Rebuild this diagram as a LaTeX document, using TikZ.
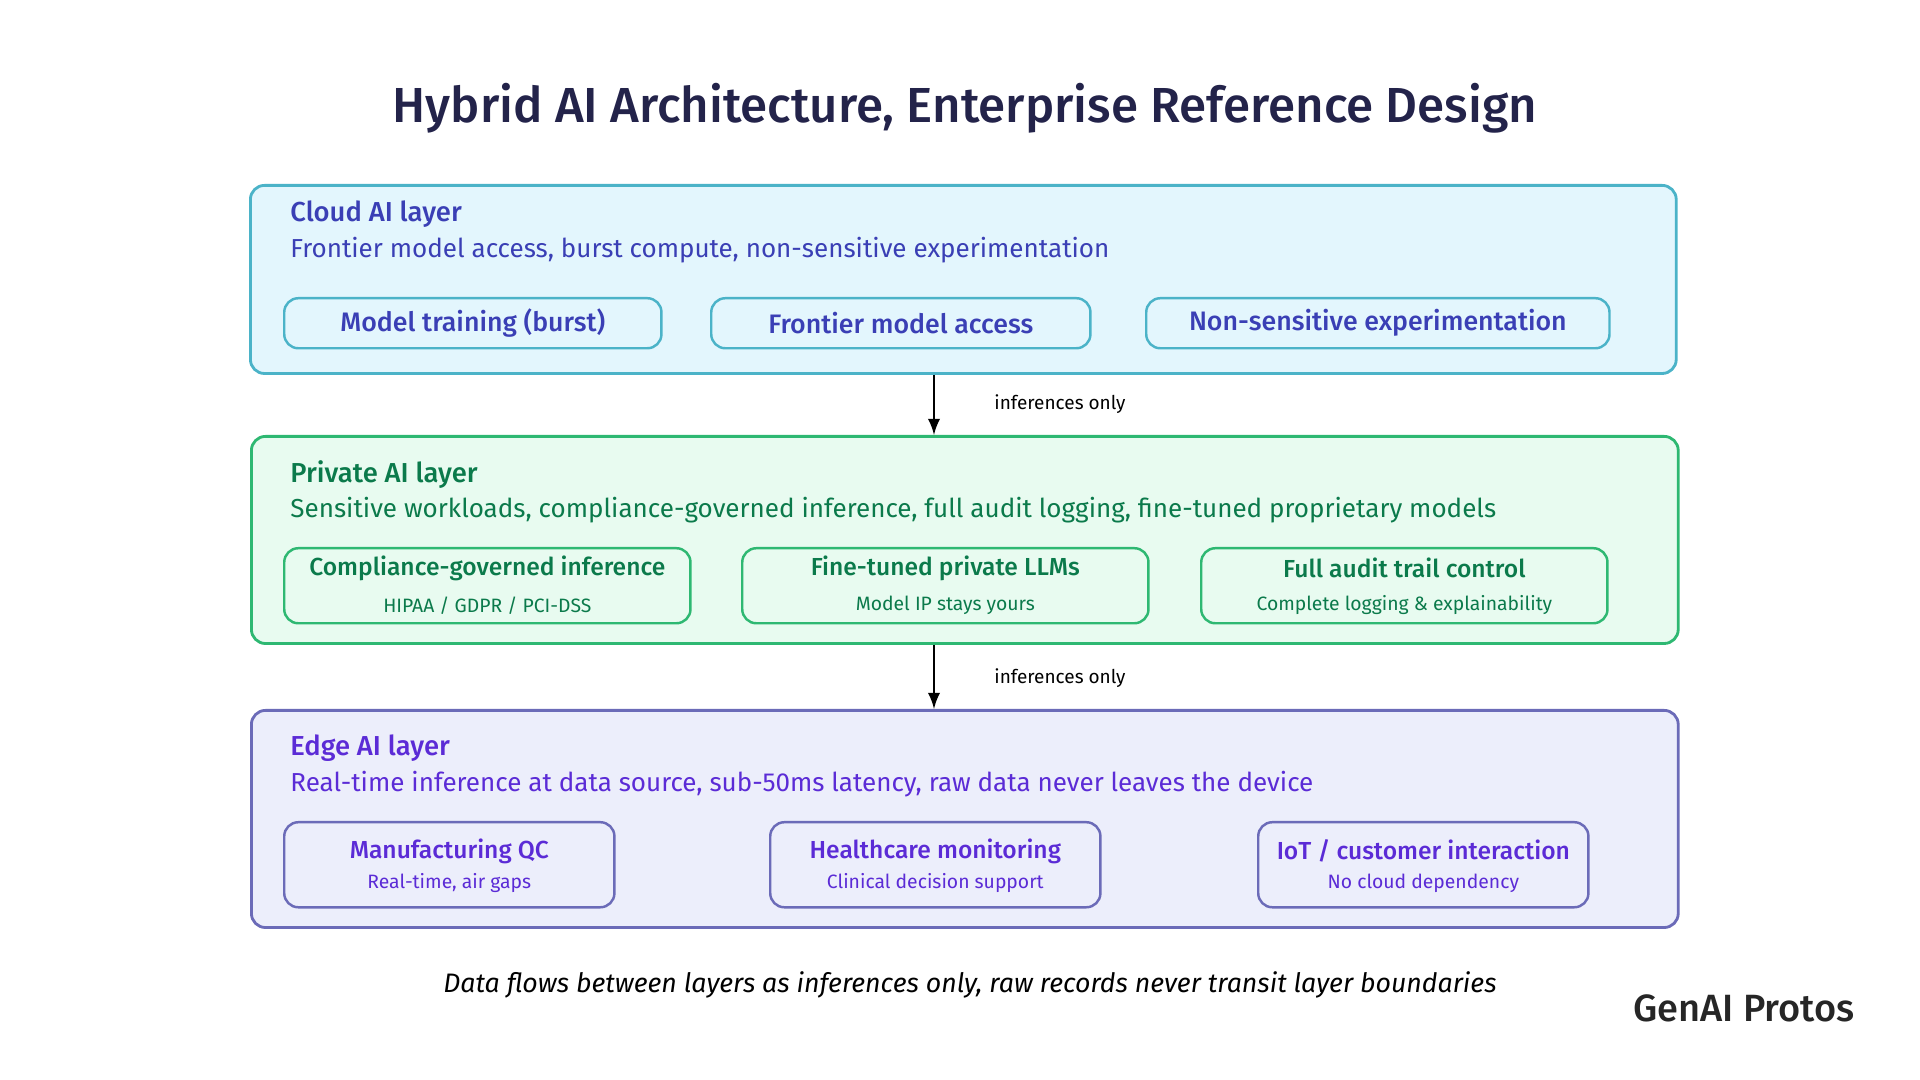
\documentclass[tikz,border=0pt]{standalone}
\usepackage{fontspec}
\setmainfont{Fira Sans}[BoldFont={Fira Sans Medium}, BoldItalicFont={Fira Sans Medium Italic}]
\usetikzlibrary{positioning}
\definecolor{cloudfill}{HTML}{E3F6FD}
\definecolor{cloudline}{HTML}{4BB3C8}
\definecolor{cloudtext}{HTML}{3A3FB5}
\definecolor{privfill}{HTML}{E8FBF0}
\definecolor{privline}{HTML}{2EB872}
\definecolor{privtext}{HTML}{0B7A4B}
\definecolor{edgefill}{HTML}{ECEEFB}
\definecolor{edgeline}{HTML}{6B6BB8}
\definecolor{edgetext}{HTML}{5B2BD6}
\definecolor{titletext}{HTML}{23234A}
\tikzset{
    layer/.style={draw=#1line, fill=#1fill, rounded corners=4pt, line width=0.8pt, anchor=north west, inner sep=0pt},
    item/.style={draw=#1line, fill=#1fill, rounded corners=4pt, line width=0.7pt, anchor=north west, inner sep=0pt},
    ltitle/.style={anchor=west, font=\fontsize{7.8}{9}\selectfont\bfseries, text=#1text},
    lsub/.style={anchor=west, font=\fontsize{7.4}{9}\selectfont, text=#1text},
    ihead/.style={font=\fontsize{7}{8}\selectfont\bfseries, text=#1text},
    isub/.style={font=\fontsize{5.5}{6}\selectfont, text=#1text},
    flow/.style={-latex, line width=0.6pt},
    flowlabel/.style={font=\fontsize{5.4}{6}\selectfont},
}
\begin{document}
\begin{tikzpicture}[x=0.01cm, y=-0.01cm]
    \useasboundingbox (0,0) rectangle (1920,1080);
    \node[font=\fontsize{14}{16}\selectfont\bfseries, text=titletext] (title) at (965,108) {Hybrid AI Architecture, Enterprise Reference Design};

    % cloud layer
    \node[layer=cloud, minimum width=14.25cm, minimum height=1.88cm] (cloud) at (249,184) {};
    \node[ltitle=cloud] (cloudtitle) at (278,214) {Cloud AI layer};
    \node[lsub=cloud] (cloudsub) at (278,250) {Frontier model access, burst compute, non-sensitive experimentation};
    \foreach \x/\w/\txt/\name in {
        283/3.77/Model training (burst)/c1,
        710/3.79/Frontier model access/c2,
        1145/4.63/Non-sensitive experimentation/c3} {
        \node[item=cloud, minimum width=\w cm, minimum height=0.50cm] (\name) at (\x,297) {};
        \node[ihead=cloud, font=\fontsize{7.6}{9}\selectfont\bfseries] at (\name.center) {\txt};
    }

    % private layer
    \node[layer=priv, minimum width=14.26cm, minimum height=2.07cm] (priv) at (250,435) {};
    \node[ltitle=priv] (privtitle) at (278,475) {Private AI layer};
    \node[lsub=priv] (privsub) at (278,510) {Sensitive workloads, compliance-governed inference, full audit logging, fine-tuned proprietary models};
    \foreach \x/\txt/\sub/\name in {
        283/{Compliance-governed inference}/{HIPAA / GDPR / PCI-DSS}/p1,
        741/{Fine-tuned private LLMs}/{Model IP stays yours}/p2,
        1200/{Full audit trail control}/{Complete logging \& explainability}/p3} {
        \node[item=priv, minimum width=4.06cm, minimum height=0.75cm] (\name) at (\x,547) {};
        \node[ihead=priv] at ([yshift=-0.21cm]\name.north) {\txt};
        \node[isub=priv] at ([yshift=0.19cm]\name.south) {\sub};
    }

    % edge layer
    \node[layer=edge, minimum width=14.26cm, minimum height=2.17cm] (edge) at (250,709) {};
    \node[ltitle=edge] (edgetitle) at (278,748) {Edge AI layer};
    \node[lsub=edge] (edgesub) at (278,784) {Real-time inference at data source, sub-50ms latency, raw data never leaves the device};
    \foreach \x/\txt/\sub/\name in {
        283/{Manufacturing QC}/{Real-time, air gaps}/e1,
        769/{Healthcare monitoring}/{Clinical decision support}/e2,
        1257/{IoT / customer interaction}/{No cloud dependency}/e3} {
        \node[item=edge, minimum width=3.30cm, minimum height=0.85cm] (\name) at (\x,821) {};
        \node[ihead=edge] at ([yshift=-0.30cm]\name.north) {\txt};
        \node[isub=edge] at ([yshift=0.25cm]\name.south) {\sub};
    }

    % flows
    \coordinate (flowx) at (934,0);
    \draw[flow] (cloud.south -| flowx) -- (priv.north -| flowx);
    \node[flowlabel] (flow1) at (1060,404) {inferences only};
    \draw[flow] (priv.south -| flowx) -- (edge.north -| flowx);
    \node[flowlabel] (flow2) at (1060,678) {inferences only};

    \node[font=\fontsize{7.6}{9}\selectfont\itshape] (footer) at (970,985) {Data flows between layers as inferences only, raw records never transit layer boundaries};
    \node[font=\fontsize{10.8}{12}\selectfont\bfseries, text=black!85] (logo) at (1744,1008) {GenAI Protos};
\end{tikzpicture}
\end{document}
